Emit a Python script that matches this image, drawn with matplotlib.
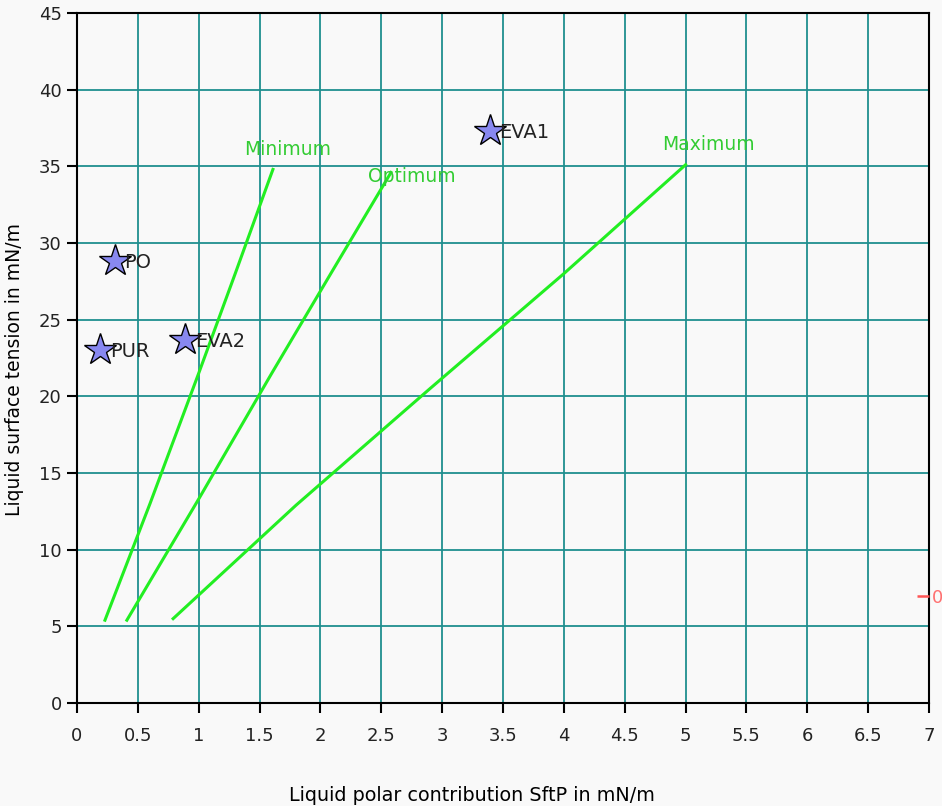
import numpy as np
import matplotlib.pyplot as plt

# wetting envelope lines (polar contribution, surface tension)
min_x = [0.23, 0.60, 1.00, 1.30, 1.61]
min_y = [5.4, 13.0, 21.5, 28.0, 34.8]
opt_x = [0.41, 1.00, 1.60, 2.10, 2.58]
opt_y = [5.4, 13.3, 21.5, 28.2, 34.6]
max_x = [0.79, 1.80, 2.90, 4.00, 5.00]
max_y = [5.5, 12.9, 20.5, 28.0, 35.1]

# solids
solid_names = ['PO', 'PUR', 'EVA2', 'EVA1']
solid_x = [0.31, 0.19, 0.89, 3.39]
solid_y = [28.8, 23.0, 23.7, 37.3]

xticks = np.arange(0, 7.01, 0.5)
xtick_labels = ['0', '0.5', '1', '1.5', '2', '2.5', '3', '3.5', '4', '4.5',
                '5', '5.5', '6', '6.5', '7']
yticks = np.arange(0, 46, 5)

fig = plt.figure(figsize=(9.42, 8.06), dpi=100, facecolor='#f9f9f9')
ax = fig.add_axes([0.0817, 0.1278, 0.9045, 0.8561])
ax.set_facecolor('#f9f9f9')

ax.set_xlim(0, 7)
ax.set_ylim(0, 45)
ax.set_xticks(xticks)
ax.set_xticklabels(xtick_labels)
ax.set_yticks(yticks)
ax.grid(True, color='#1f8f8f', linewidth=1.3)
ax.set_axisbelow(True)
for s in ax.spines.values():
    s.set_color('black')
    s.set_linewidth(1.5)
ax.tick_params(axis='both', direction='out', length=7, width=1.5,
               labelsize=13, colors='black', labelcolor='#222222')
ax.tick_params(axis='x', pad=10)
ax.tick_params(axis='y', pad=4)

lc = '#22ee22'
ax.plot(min_x, min_y, color=lc, lw=2.2)
ax.plot(opt_x, opt_y, color=lc, lw=2.2)
ax.plot(max_x, max_y, color=lc, lw=2.2)
ax.text(1.73, 35.5, 'Minimum', color='#33cc33', fontsize=13.5, ha='center', va='bottom')
ax.text(2.75, 33.7, 'Optimum', color='#33cc33', fontsize=13.5, ha='center', va='bottom')
ax.text(5.19, 35.8, 'Maximum', color='#33cc33', fontsize=13.5, ha='center', va='bottom')

ax.plot(solid_x, solid_y, linestyle='none', marker='*', markersize=24,
        markerfacecolor='#8888f0', markeredgecolor='black', markeredgewidth=1.0)
for name, x, y in zip(solid_names, solid_x, solid_y):
    ax.text(x + 0.08, y - 0.1, name, fontsize=14, color='#222222', va='center', ha='left')

ax.set_xlabel('Liquid polar contribution SftP in mN/m', fontsize=13.8)
ax.xaxis.set_label_coords(0.463, -0.121)
ax.set_ylabel('Liquid surface tension in mN/m', fontsize=13.5)
ax.yaxis.set_label_coords(-0.062, 0.483)

# secondary scale on the right edge
ax2 = ax.twinx()
ax2.set_ylim(-7, 38)
ax2.set_yticks([0])
ax2.tick_params(axis='y', direction='in', colors='#ff5555', labelcolor='#ff7070',
                length=9, width=1.8, labelsize=13, pad=2)
for s in ax2.spines.values():
    s.set_visible(False)

fig.savefig('out.png', dpi=100, facecolor=fig.get_facecolor())
